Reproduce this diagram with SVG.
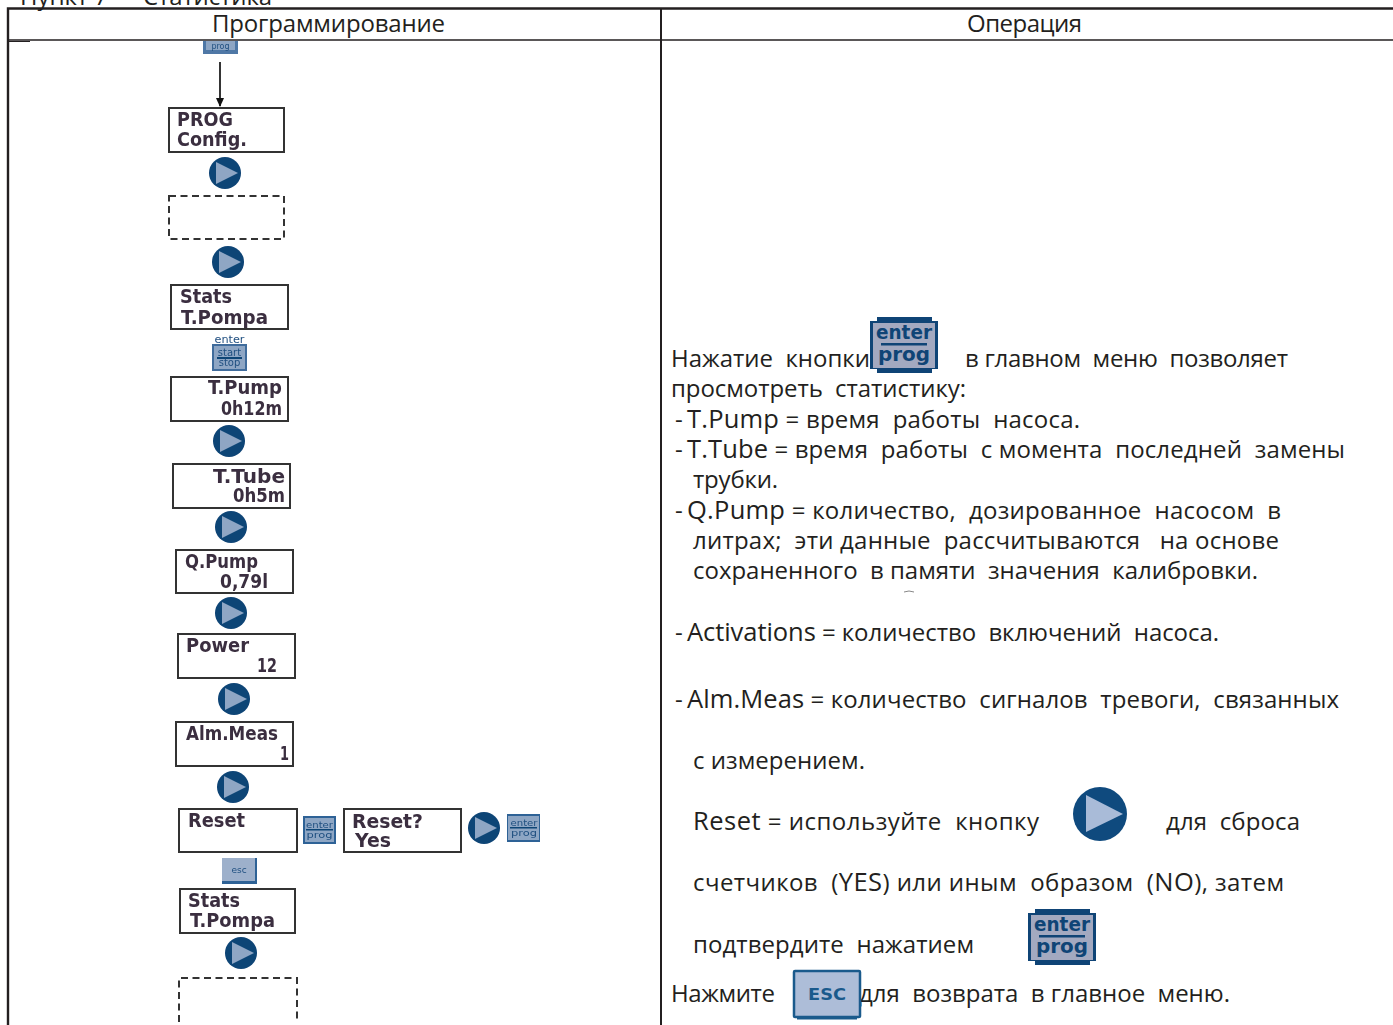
<svg xmlns="http://www.w3.org/2000/svg" xmlns:xlink="http://www.w3.org/1999/xlink" width="1393" height="1025" viewBox="0 0 1393 1025">
<style>
.t{font-family:"Open Sans","Noto Sans","DejaVu Sans",sans-serif;font-size:24px;fill:#231f20}
.l{font-size:25.500px}
.lcdbox{fill:#fff;stroke:#333;stroke-width:2}
.dash{fill:none;stroke:#333;stroke-width:2;stroke-dasharray:7 4.5}
.lcd{font-family:"DejaVu Sans",sans-serif;font-weight:700;font-size:19px;fill:#3a2f3f}
.grid{stroke:#231f20;fill:none}
.bt{font-family:"DejaVu Sans",sans-serif;font-weight:700;fill:#0f4476}
.bs{font-family:"DejaVu Sans",sans-serif;font-weight:400;fill:#1f4f80}
</style>
<defs>
<filter id="soft" x="-5%" y="-5%" width="110%" height="110%"><feGaussianBlur stdDeviation="0.5"/></filter>
<marker id="ah" markerWidth="10" markerHeight="10" refX="8" refY="4" orient="auto" markerUnits="userSpaceOnUse"><path d="M0 0L9 4L0 8z" fill="#111"/></marker>
<g id="play"><circle cx="0" cy="0" r="27" fill="#0f4a7e"/><path d="M-14-19L23 0L-14 18z" fill="#a9bbd8"/></g>
<g id="plays"><circle cx="0" cy="0" r="16" fill="#0f4476" filter="url(#soft)"/><path d="M-9-11L13 0L-9 11z" fill="#8fa6c4" filter="url(#soft)"/></g>
<g id="enterbtn">
<path d="M7-1H62V3H68V51H62V55H7V51H0V3H7z" fill="#0f4476"/>
<rect x="3" y="5" width="62" height="45" fill="#a3a9c0"/>
<text class="bt" x="34" y="21" text-anchor="middle" font-size="20" textLength="56" lengthAdjust="spacingAndGlyphs">enter</text>
<rect x="11" y="25" width="46" height="2.500" fill="#0f4476"/>
<text class="bt" x="34" y="43" text-anchor="middle" font-size="20" textLength="52" lengthAdjust="spacingAndGlyphs">prog</text>
</g>
</defs>
<rect width="1393" height="1025" fill="#fff"/>

<g id="table">
<path class="grid" stroke-width="2.400" d="M8 1025V8.500H1393"/>
<path class="grid" stroke-width="2" d="M661 8V1025"/>
<path class="grid" stroke-width="1.600" d="M8 40H1393"/>
<path class="grid" stroke-width="1" d="M8 41.500H30"/>
</g>
<text class="t" x="20" y="5" textLength="88">Пункт 7</text>
<text class="t" x="143" y="5" textLength="129">Статистика</text>
<text class="t" x="212" y="32" textLength="233">Программирование</text>
<text class="t" x="967" y="32" textLength="115">Операция</text>

<g id="connectors">
<path d="M220 62V106" stroke="#111" stroke-width="1.700" fill="none" marker-end="url(#ah)"/>
</g>

<g id="node-prog-top" filter="url(#soft)">
<rect x="203" y="41" width="35" height="13" fill="#4f78a6"/><rect x="206" y="41" width="29" height="9" fill="#8ea6c4"/>
<text class="bs" x="220.500" y="49" text-anchor="middle" font-size="8">prog</text>
</g>
<g id="node-prog-config"><rect class="lcdbox" x="169" y="108" width="115" height="44"/>
<g filter="url(#soft)"><text class="lcd" x="177" y="126" textLength="56" lengthAdjust="spacingAndGlyphs">PROG</text><text class="lcd" x="177" y="146" textLength="70" lengthAdjust="spacingAndGlyphs">Config.</text></g></g>
<g id="play-1"><use xlink:href="#plays" transform="translate(225 173)"/></g>
<g id="node-dashed-1"><rect class="dash" x="169" y="196" width="115" height="43"/></g>
<g id="play-2"><use xlink:href="#plays" transform="translate(228 262)"/></g>
<g id="node-stats-1"><rect class="lcdbox" x="171" y="285" width="117" height="44"/>
<g filter="url(#soft)"><text class="lcd" x="180" y="303" textLength="52" lengthAdjust="spacingAndGlyphs">Stats</text><text class="lcd" x="181" y="324" textLength="87" lengthAdjust="spacingAndGlyphs">T.Pompa</text></g></g>
<g id="btn-start-stop" filter="url(#soft)">
<text class="bs" x="229.500" y="343" text-anchor="middle" font-size="11" textLength="30" lengthAdjust="spacingAndGlyphs">enter</text>
<rect x="212" y="344" width="35" height="27" fill="#3f6c9c"/><rect x="214" y="346" width="31" height="23" fill="#8ea6c4"/>
<text class="bs" x="229.500" y="356" text-anchor="middle" font-size="10">start</text><rect x="217" y="357" width="25" height="2" fill="#0f4476"/>
<text class="bs" x="229.500" y="366" text-anchor="middle" font-size="10">stop</text>
</g>
<g id="node-tpump"><rect class="lcdbox" x="171" y="377" width="117" height="44"/>
<g filter="url(#soft)"><text class="lcd" x="208" y="394" textLength="74" lengthAdjust="spacingAndGlyphs">T.Pump</text><text class="lcd" x="221" y="415" textLength="61" lengthAdjust="spacingAndGlyphs">0h12m</text></g></g>
<g id="play-3"><use xlink:href="#plays" transform="translate(229 441)"/></g>
<g id="node-ttube"><rect class="lcdbox" x="173" y="464" width="117" height="44"/>
<g filter="url(#soft)"><text class="lcd" x="213" y="483" textLength="72" lengthAdjust="spacingAndGlyphs">T.Tube</text><text class="lcd" x="233" y="502" textLength="52" lengthAdjust="spacingAndGlyphs">0h5m</text></g></g>
<g id="play-4"><use xlink:href="#plays" transform="translate(231 527)"/></g>
<g id="node-qpump"><rect class="lcdbox" x="176" y="550" width="117" height="43"/>
<g filter="url(#soft)"><text class="lcd" x="185" y="568" textLength="73" lengthAdjust="spacingAndGlyphs">Q.Pump</text><text class="lcd" x="220" y="588" textLength="48" lengthAdjust="spacingAndGlyphs">0,79l</text></g></g>
<g id="play-5"><use xlink:href="#plays" transform="translate(231 613)"/></g>
<g id="node-power"><rect class="lcdbox" x="178" y="634" width="117" height="44"/>
<g filter="url(#soft)"><text class="lcd" x="186" y="652" textLength="63" lengthAdjust="spacingAndGlyphs">Power</text><text class="lcd" x="257" y="672" textLength="20" lengthAdjust="spacingAndGlyphs">12</text></g></g>
<g id="play-6"><use xlink:href="#plays" transform="translate(234 699)"/></g>
<g id="node-almmeas"><rect class="lcdbox" x="176" y="722" width="117" height="44"/>
<g filter="url(#soft)"><text class="lcd" x="186" y="740" textLength="92" lengthAdjust="spacingAndGlyphs">Alm.Meas</text><text class="lcd" x="280" y="760" textLength="9" lengthAdjust="spacingAndGlyphs">1</text></g></g>
<g id="play-7"><use xlink:href="#plays" transform="translate(233 787)"/></g>
<g id="node-reset"><rect class="lcdbox" x="179" y="809" width="118" height="43"/>
<g filter="url(#soft)"><text class="lcd" x="188" y="827" textLength="57" lengthAdjust="spacingAndGlyphs">Reset</text></g></g>
<g id="btn-enter-small-1" filter="url(#soft)"><rect x="303" y="816" width="33" height="28" fill="#2f6296"/><rect x="305" y="818" width="29" height="24" fill="#8ea6c4"/>
<text class="bs" x="319.500" y="828" text-anchor="middle" font-size="9.500" textLength="27" lengthAdjust="spacingAndGlyphs">enter</text><rect x="306" y="829" width="27" height="1.500" fill="#0f4476"/><text class="bs" x="319.500" y="838" text-anchor="middle" font-size="9.500" textLength="26" lengthAdjust="spacingAndGlyphs">prog</text></g>
<g id="node-reset-yes"><rect class="lcdbox" x="344" y="809" width="117" height="43"/>
<g filter="url(#soft)"><text class="lcd" x="352" y="828" textLength="71" lengthAdjust="spacingAndGlyphs">Reset?</text><text class="lcd" x="355" y="847" textLength="36" lengthAdjust="spacingAndGlyphs">Yes</text></g></g>
<g id="play-8"><use xlink:href="#plays" transform="translate(484 828)"/></g>
<g id="btn-enter-small-2" filter="url(#soft)"><rect x="507" y="814" width="33" height="28" fill="#2f6296"/><rect x="508" y="816" width="31" height="24" fill="#8ea6c4"/>
<text class="bs" x="524" y="826" text-anchor="middle" font-size="9.500" textLength="27" lengthAdjust="spacingAndGlyphs">enter</text><rect x="510" y="827" width="27" height="1.500" fill="#0f4476"/><text class="bs" x="524" y="836" text-anchor="middle" font-size="9.500" textLength="26" lengthAdjust="spacingAndGlyphs">prog</text></g>
<g id="btn-esc-small" filter="url(#soft)"><rect x="222" y="858" width="35" height="26" fill="#2f6296"/><rect x="222" y="858" width="33" height="23" fill="#9db0cb"/><text class="bs" x="239" y="873" text-anchor="middle" font-size="9">esc</text></g>
<g id="node-stats-2"><rect class="lcdbox" x="180" y="889" width="115" height="44"/>
<g filter="url(#soft)"><text class="lcd" x="188" y="907" textLength="52" lengthAdjust="spacingAndGlyphs">Stats</text><text class="lcd" x="190" y="927" textLength="85" lengthAdjust="spacingAndGlyphs">T.Pompa</text></g></g>
<g id="play-9"><use xlink:href="#plays" transform="translate(241 953)"/></g>
<g id="node-dashed-2"><path class="dash" d="M179 1022V978H297V1022"/></g>

<g id="operation-text">
<text class="t" x="671" y="367" textLength="199" xml:space="preserve">Нажатие  кнопки</text>
<text class="t" x="965" y="367" textLength="323" xml:space="preserve">в главном  меню  позволяет</text>
<text class="t" x="671" y="397" textLength="295" xml:space="preserve">просмотреть  статистику:</text>
<text class="t" x="675" y="428">-</text><text class="t" x="687" y="428" textLength="393" xml:space="preserve"><tspan class="l">T.Pump</tspan> = время  работы  насоса.</text>
<text class="t" x="675" y="458">-</text><text class="t" x="687" y="458" textLength="658" xml:space="preserve"><tspan class="l">T.Tube</tspan> = время  работы  с момента  последней  замены</text>
<text class="t" x="693" y="488" textLength="85">трубки.</text>
<text class="t" x="675" y="519">-</text><text class="t" x="687" y="519" textLength="594" xml:space="preserve"><tspan class="l">Q.Pump</tspan> = количество,  дозированное  насосом  в</text>
<text class="t" x="693" y="549" textLength="586" xml:space="preserve">литрах;  эти данные  рассчитываются   на основе</text>
<text class="t" x="693" y="579" textLength="565" xml:space="preserve">сохраненного  в памяти  значения  калибровки.</text>
<path d="M904 592Q909 590 914 592" stroke="#888" stroke-width="1" fill="none"/>
<text class="t" x="675" y="641">-</text><text class="t" x="687" y="641" textLength="532" xml:space="preserve"><tspan class="l">Activations</tspan> = количество  включений  насоса.</text>
<text class="t" x="675" y="708">-</text><text class="t" x="687" y="708" textLength="652" xml:space="preserve"><tspan class="l">Alm.Meas</tspan> = количество  сигналов  тревоги,  связанных</text>
<text class="t" x="693" y="769" textLength="172" xml:space="preserve">с измерением.</text>
<text class="t" x="693" y="830" textLength="346" xml:space="preserve"><tspan class="l">Reset</tspan> = используйте  кнопку</text>
<text class="t" x="1166" y="830" textLength="134" xml:space="preserve">для  сброса</text>
<text class="t" x="693" y="891" textLength="591" xml:space="preserve">счетчиков  (<tspan class="l">YES</tspan>) или иным  образом  (<tspan class="l">NO</tspan>), затем</text>
<text class="t" x="693" y="953" textLength="281" xml:space="preserve">подтвердите  нажатием</text>
<text class="t" x="671" y="1002" textLength="104">Нажмите</text>
<text class="t" x="859" y="1002" textLength="371" xml:space="preserve">для  возврата  в главное  меню.</text>
</g>
<g id="btn-enter-big-1"><use xlink:href="#enterbtn" transform="translate(870 318)"/></g>
<g id="play-big"><use xlink:href="#play" transform="translate(1100 814)"/></g>
<g id="btn-enter-big-2"><use xlink:href="#enterbtn" transform="translate(1028 910)"/></g>
<g id="btn-esc-big"><rect x="794" y="971" width="66" height="46" rx="1" fill="#adbdd8" stroke="#1a5a8c" stroke-width="2.500"/><rect x="797" y="1016" width="60" height="3.500" fill="#1a5a8c"/>
<text class="bt" x="827" y="1000" text-anchor="middle" font-size="16" style="fill:#1a5a8c" textLength="38" lengthAdjust="spacingAndGlyphs">ESC</text></g>
</svg>
